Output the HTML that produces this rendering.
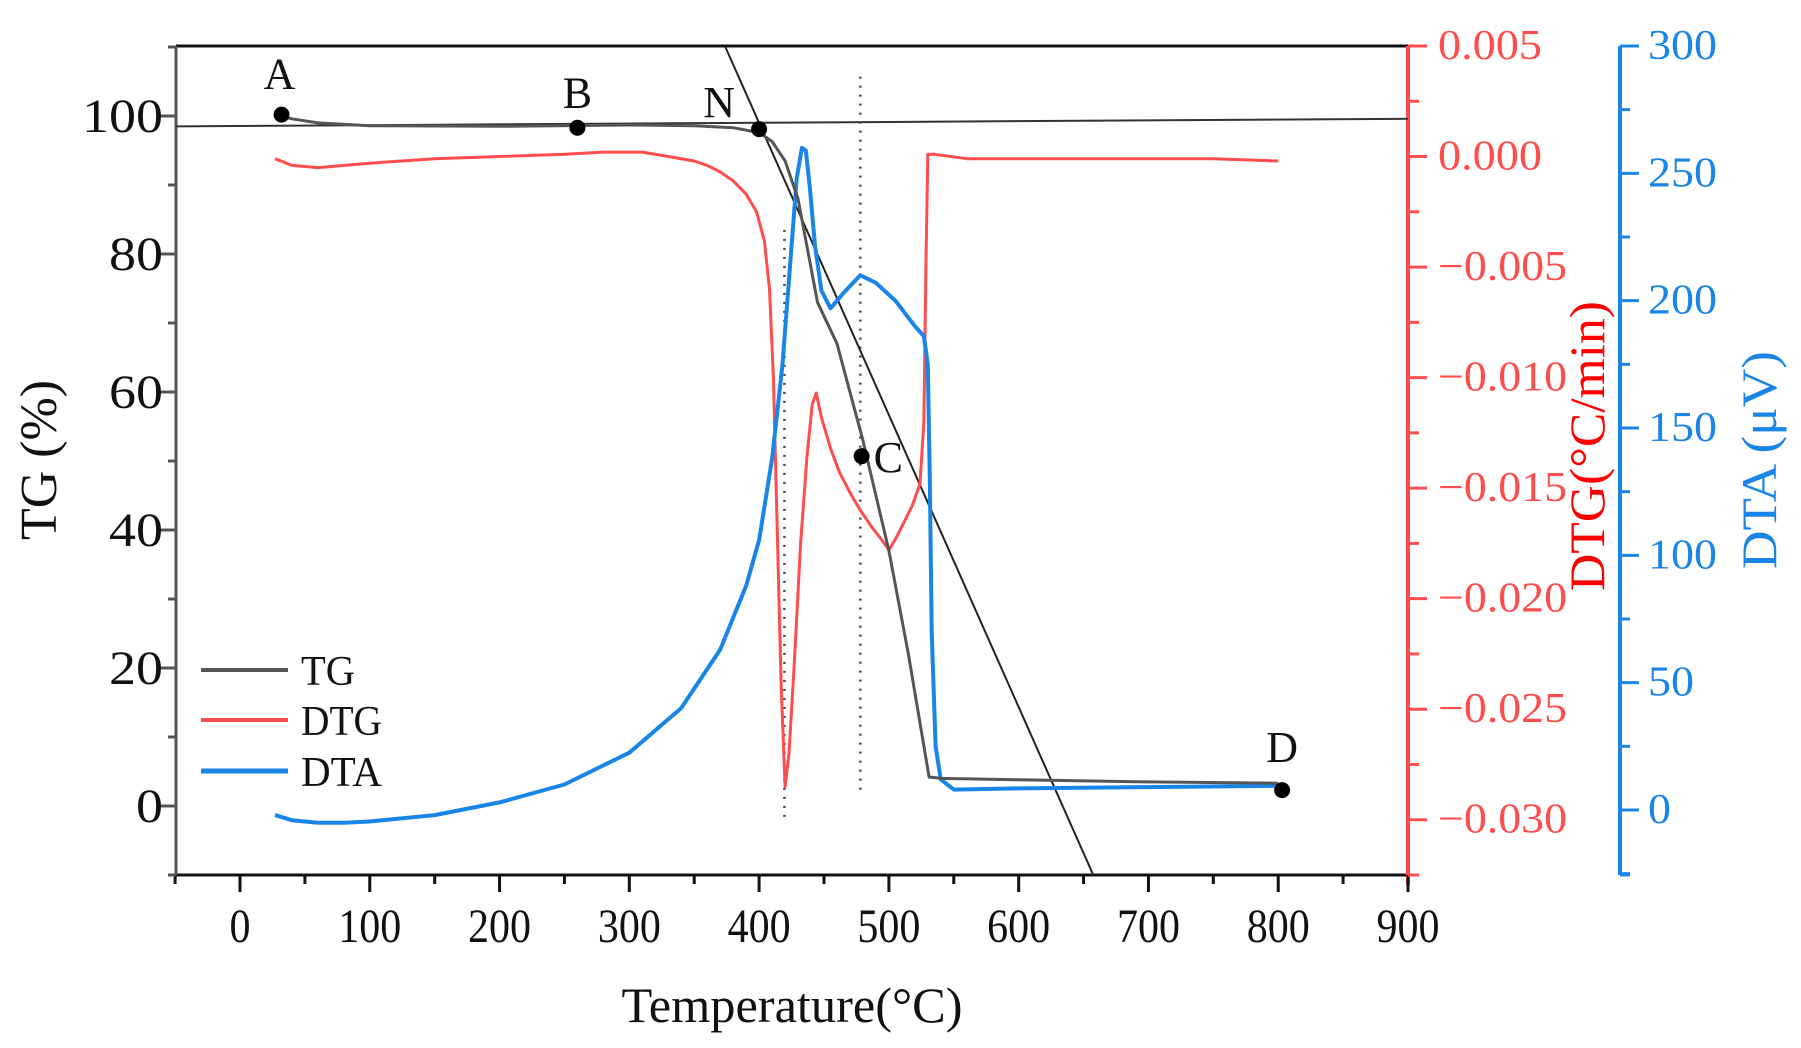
<!DOCTYPE html>
<html><head><meta charset="utf-8"><style>
html,body{margin:0;padding:0;background:#fff;}
svg{display:block;}
text{font-family:"Liberation Serif",serif;}
</style></head><body>
<svg id="chart" width="1801" height="1048" viewBox="0 0 1801 1048" xmlns="http://www.w3.org/2000/svg"></svg>
<script>
// ---- data ----
const tgT   = [30, 40, 60, 100, 200, 300, 350, 380, 400, 410, 420, 430, 438, 445, 460, 480, 500, 515, 531, 540, 600, 700, 800];
const tgV   = [100, 99.6, 99.0, 98.6, 98.5, 98.7, 98.6, 98.3, 97.6, 96.3, 93.5, 88, 80, 73, 67, 53, 37, 22, 4.2, 4.0, 3.8, 3.5, 3.3];
const dtgT  = [27, 40, 60, 100, 150, 200, 250, 280, 310, 330, 350, 360, 370, 380, 390, 398, 404, 408, 411, 414, 417, 420, 423, 427, 432, 437, 441, 444, 448, 455, 462, 470, 478, 486, 494, 500, 506, 512, 518, 524, 527, 528.5, 530, 535, 560, 600, 650, 700, 750, 800];
const dtgV  = [-0.0001, -0.0004, -0.0005, -0.0003, -0.0001, 0.0000, 0.0001, 0.0002, 0.0002, 0.0000, -0.0002, -0.0004, -0.0007, -0.0011, -0.0017, -0.0025, -0.0038, -0.0060, -0.0100, -0.0170, -0.0240, -0.0285, -0.0270, -0.0230, -0.0175, -0.0135, -0.0112, -0.0107, -0.0118, -0.0132, -0.0143, -0.0152, -0.0160, -0.0167, -0.0173, -0.0178, -0.0172, -0.0165, -0.0158, -0.0148, -0.0120, -0.0050, 0.0001, 0.0001, -0.0001, -0.0001, -0.0001, -0.0001, -0.0001, -0.0002];
const dtaT  = [27, 40, 60, 80, 100, 150, 200, 250, 300, 340, 370, 390, 400, 410, 418, 424, 429, 433, 436, 439, 443, 448, 455, 465, 478, 490, 505, 520, 527, 530, 531.5, 533, 536, 540, 550, 600, 700, 800];
const dtaV  = [-2, -4, -5, -5, -4.5, -2, 3, 10, 22.5, 40, 63, 88, 106, 138, 175, 215, 248, 260, 259, 245, 222, 204, 197, 203, 210, 207, 200, 190, 186, 175, 130, 70, 25, 12, 8, 8.5, 9, 9.5];
const points = [["A", 32, 100.2], ["B", 260, 98.3], ["N", 400, 98.1], ["C", 479, 50.7], ["D", 803, 2.3]];
const xTicks = [0,100,200,300,400,500,600,700,800,900];
const tgTicks = [0,20,40,60,80,100];
const dtgTicks = [0.005,0,-0.005,-0.010,-0.015,-0.020,-0.025,-0.030];
const dtgTickLabels = ["0.005","0.000","\u22120.005","\u22120.010","\u22120.015","\u22120.020","\u22120.025","\u22120.030"];
const dtaTicks = [0,50,100,150,200,250,300];
const baseLine = [[-50, 98.5], [900, 99.6]];
const tangent = [[374, 110], [657.5, -10]];
const vlines = [[419.5, 83.5, -1.7], [478, 105.7, 2.3]];

// ---- axes ----
const L=176, R=1408, T=46, B=875, BX=1620;
const X = t => 240 + (t)*(1408-240)/900;
const Y = v => 806 - v*6.9;
const Yd = v => 46 + (0.005 - v)*(829/0.0375);
const Ya = v => 810 - v*(764/300);

const svg = document.getElementById('chart');
const NS = 'http://www.w3.org/2000/svg';
function el(tag, attrs, parent){ const e=document.createElementNS(NS,tag); for(const k in attrs) e.setAttribute(k,attrs[k]); (parent||svg).appendChild(e); return e; }
function txt(s, attrs, parent){ const e=el('text',attrs,parent); e.textContent=s; return e; }

const clip = el('clipPath',{id:'pc'}); el('rect',{x:L,y:T,width:R-L,height:B-T},clip);

// frame
let g = el('g',{});
 
el('line',{x1:L,y1:T,x2:R,y2:T,stroke:'#111','stroke-width':3},g);
el('line',{x1:L,y1:B,x2:R,y2:B,stroke:'#111','stroke-width':3},g);
el('line',{x1:L,y1:T,x2:L,y2:B,stroke:'#555','stroke-width':3},g);
el('line',{x1:R,y1:T,x2:R,y2:B+10,stroke:'#ff4d4d','stroke-width':4},g);

// x axis
g = el('g',{});  
for(let t=-50;t<=900;t+=50){ const major=t%100===0; el('line',{x1:X(t),y1:B,x2:X(t),y2:B+(major?17:9),stroke:'#111','stroke-width':3},g); }
xTicks.forEach(t=>{ const s=String(t); txt(s,{x:X(t),y:B+67,'font-size':48,'text-anchor':'middle',fill:'#111',textLength:s.length*21,lengthAdjust:'spacingAndGlyphs'},g); });
let xt = txt('Temperature(°C)',{x:792,y:1022,'font-size':50,'text-anchor':'middle',fill:'#111',textLength:341,lengthAdjust:'spacingAndGlyphs'});
 

// left axis
g = el('g',{});  
for(let v=-10;v<=110;v+=10){ const major=v%20===0; el('line',{x1:L,y1:Y(v),x2:L-(major?16:8),y2:Y(v),stroke:'#555','stroke-width':3},g); }
tgTicks.forEach(v=>{ const s=String(v); txt(s,{x:163,y:Y(v)+16,'font-size':48,'text-anchor':'end',fill:'#111',textLength:s.length*27,lengthAdjust:'spacingAndGlyphs'},g); });
let yt = txt('TG (%)',{x:0,y:0,'font-size':52,'text-anchor':'middle',fill:'#111',transform:'translate(56,460) rotate(-90)',textLength:160,lengthAdjust:'spacingAndGlyphs'});
 

// DTG axis
g = el('g',{});  
for(let i=0;i<=15;i++){ const v=0.005-i*0.0025; const major=i%2===0; el('line',{x1:R,y1:Yd(v),x2:R+(major?19:11),y2:Yd(v),stroke:'#ff4d4d','stroke-width':3},g); }
dtgTicks.forEach((v,i)=>{ txt(dtgTickLabels[i],{x:1438,y:Yd(v)+13,'font-size':42,'text-anchor':'start',fill:'#ff4d4d','textLength':dtgTickLabels[i].length>5?129:104,lengthAdjust:'spacingAndGlyphs'},g); });
let dt = txt('DTG(°C/min)',{x:0,y:0,'font-size':50,'text-anchor':'middle',fill:'#ff0000',transform:'translate(1604,446) rotate(-90)',textLength:290,lengthAdjust:'spacingAndGlyphs'});
 

// DTA axis
g = el('g',{});  
el('line',{x1:BX,y1:T,x2:BX,y2:B,stroke:'#1a85e8','stroke-width':4},g);
for(let v=-25;v<=300;v+=25){ const major=v%50===0; el('line',{x1:BX,y1:Ya(v),x2:BX+(major?19:10),y2:Ya(v),stroke:'#1a85e8','stroke-width':3},g); }
el('line',{x1:BX,y1:B,x2:BX+10,y2:B,stroke:'#1a85e8','stroke-width':3},g);
dtaTicks.forEach(v=>{ const s=String(v); txt(s,{x:1648,y:Ya(v)+13,'font-size':42,'text-anchor':'start',fill:'#1a85e8','textLength':s.length*23,lengthAdjust:'spacingAndGlyphs'},g); });
let at = txt('DTA (μV)',{x:0,y:0,'font-size':50,'text-anchor':'middle',fill:'#1a85e8',transform:'translate(1776,460) rotate(-90)',textLength:218,lengthAdjust:'spacingAndGlyphs'});
 

// series
const pg = el('g',{'clip-path':'url(#pc)'});
function path(ts, vs, yf){ return ts.map((t,i)=>(i?'L':'M')+X(t).toFixed(1)+','+yf(vs[i]).toFixed(1)).join(' '); }
vlines.forEach((l,i)=>{ const ln=el('line',{x1:X(l[0]),y1:Y(l[1]),x2:X(l[0]),y2:Y(l[2]),stroke:'#444','stroke-width':2.5,'stroke-dasharray':'2,7'},pg);
    });
let bl = el('line',{x1:X(baseLine[0][0]),y1:Y(baseLine[0][1]),x2:X(baseLine[1][0]),y2:Y(baseLine[1][1]),stroke:'#333','stroke-width':2},pg);
 
let tl = el('line',{x1:X(tangent[0][0]),y1:Y(tangent[0][1]),x2:X(tangent[1][0]),y2:Y(tangent[1][1]),stroke:'#222','stroke-width':2},pg);
 
let dtgP = el('path',{d:path(dtgT,dtgV,Yd),fill:'none',stroke:'#ff4d4d','stroke-width':3,'stroke-linejoin':'round'},pg);
 
let dtaP = el('path',{d:path(dtaT,dtaV,Ya),fill:'none',stroke:'#1a85e8','stroke-width':4,'stroke-linejoin':'round'},pg);
 
let tgP = el('path',{d:path(tgT,tgV,Y),fill:'none',stroke:'#555','stroke-width':3,'stroke-linejoin':'round'},pg);
 

// marked points
const lblOff = {A:[-2,-26,'middle'],B:[0,-20,'middle'],N:[-40,-12,'middle'],C:[12,16,'start'],D:[0,-28,'middle']};
points.forEach(p=>{
  const cx=X(p[1]), cy=Y(p[2]);
  const c=el('circle',{cx:cx,cy:cy,r:8,fill:'#000'});
   
  const o=lblOff[p[0]];
  const t=txt(p[0],{x:cx+o[0],y:cy+o[1],'font-size':44,'text-anchor':o[2],fill:'#111'});
   
});

// legend
const lg = el('g',{});  
[['TG','#555',670,3],['DTG','#ff4d4d',720,3],['DTA','#1a85e8',771,4]].forEach(e=>{
  const eg=el('g',{},lg);  
  el('line',{x1:201,y1:e[2],x2:288,y2:e[2],stroke:e[1],'stroke-width':e[3]+1},eg);
  txt(e[0],{x:301,y:e[2]+15,'font-size':42,fill:'#111',textLength:e[0].length*27,lengthAdjust:'spacingAndGlyphs'},eg);
});
</script>
</body></html>
